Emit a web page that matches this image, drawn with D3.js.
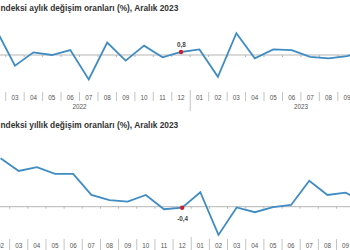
<!DOCTYPE html>
<html><head><meta charset="utf-8">
<script src="https://cdn.jsdelivr.net/npm/d3@7"></script>
<style>html,body{margin:0;padding:0;background:#fff;overflow:hidden}</style>
</head><body>
<svg id="c" width="350" height="250"></svg>
<script>
// ---- data ----
const monthLabels = ["01","02","03","04","05","06","07","08","09","10","11","12",
                     "01","02","03","04","05","06","07","08","09","10","11","12"];
const years = ["2022","2023"];
const periods = d3.range(24).map(i => years[Math.floor(i/12)] + "-" + monthLabels[i]);
// series values from 2022-02 to 2023-10
const seriesPeriods = periods.slice(1, 22);
const monthlyChange = [6.6, -2.85, 0.7, 0.0, 1.3, -6.5, 3.3, -1.5, 2.5, -0.6, 0.8,
                       1.5, -5.8, 5.8, -0.9, 1.5, 1.3, -0.5, -0.9, -0.3, 1.2];
const annualChange = [19.4, 14.3, 15.8, 13.1, 13.1, 4.7, 2.6, 2.0, 4.7, -1.0, -0.4,
                      5.8, -11.3, -0.3, -2.2, -0.2, 0.7, 10.4, 4.7, 5.6, 1.9];
const highlightPeriod = "2022-12";
const titles = ["ndeksi aylık değişim oranları (%), Aralık 2023",
                "ndeksi yıllık değişim oranları (%), Aralık 2023"];

const svg = d3.select("#c");
const FONT = "'Liberation Sans', Arial, sans-serif";
const lineColor = "#3f8bc3";

function panel(cfg){
  const g = svg.append("g");
  const x = d3.scalePoint().domain(periods).range([cfg.x0, cfg.x0 + cfg.step*(periods.length-1)]);
  const y = d3.scaleLinear().domain(cfg.yDomain).range(cfg.yRange);
  const step = cfg.step;
  const y0 = y(0);

  // title
  const t = g.append("text").attr("x", 0.5).attr("y", cfg.titleY)
    .attr("font-family", FONT).attr("font-weight", "bold").attr("font-size", 8)
    .attr("fill", "#333").text(cfg.title);
  const w = t.node().getComputedTextLength();
  t.attr("font-size", 8 * 178 / w);

  // zero line
  g.append("line").attr("x1", 0).attr("x2", 350).attr("y1", y0).attr("y2", y0)
    .attr("stroke", "#b5b5b5").attr("stroke-width", 1);
  // small ticks on zero line
  g.selectAll(".zt").data(periods.slice(0,-1)).join("line")
    .attr("x1", d => x(d) + step/2).attr("x2", d => x(d) + step/2)
    .attr("y1", y0).attr("y2", y0 + 2).attr("stroke", "#b5b5b5").attr("stroke-width", 1);

  // month labels
  g.selectAll(".ml").data(periods).join("text")
    .attr("x", d => x(d)).attr("y", cfg.labelY).attr("text-anchor", "middle")
    .attr("font-family", FONT).attr("font-size", 6.3).attr("fill", "#555")
    .text((d,i) => monthLabels[i]);
  // separators
  g.selectAll(".sep").data(periods.slice(0,-1)).join("line")
    .attr("x1", d => x(d) + step/2).attr("x2", d => x(d) + step/2)
    .attr("y1", (d,i) => i === 11 ? cfg.sepY[0]-2 : cfg.sepY[0])
    .attr("y2", (d,i) => i === 11 ? cfg.sepY[1]+10 : cfg.sepY[1])
    .attr("stroke", "#c4c4c4").attr("stroke-width", 1);
  // year labels
  g.selectAll(".yl").data(years).join("text")
    .attr("x", (d,i) => (x(periods[i*12]) + x(periods[i*12+11]))/2)
    .attr("y", cfg.labelY + 9).attr("text-anchor", "middle")
    .attr("font-family", FONT).attr("font-size", 6.3).attr("fill", "#555")
    .text(d => d);

  // line
  const data = seriesPeriods.map((p,i) => ({p, v: cfg.values[i]}));
  g.append("path").datum(data)
    .attr("d", d3.line().x(d => x(d.p)).y(d => y(d.v)))
    .attr("fill", "none").attr("stroke", lineColor).attr("stroke-width", 1.8)
    .attr("stroke-linejoin", "miter");

  // highlight
  const h = data.find(d => d.p === highlightPeriod);
  g.append("circle").attr("cx", x(h.p)).attr("cy", y(h.v)).attr("r", 2.2).attr("fill", "#c8202a");
  g.append("text").attr("x", x(h.p) + 0.5)
    .attr("y", y(h.v) + cfg.hlDy).attr("text-anchor", "middle")
    .attr("font-family", FONT).attr("font-weight", "bold").attr("font-size", 6.3).attr("fill", "#444")
    .text(String(h.v).replace(".", ","));
}

panel({title: titles[0], titleY: 11, x0: -21.95, step: 18.45,
       yDomain: [-10, 10], yRange: [92.5, 17.5], values: monthlyChange,
       labelY: 99.5, sepY: [92, 101], hlDy: -5});
panel({title: titles[1], titleY: 128, x0: -17.6, step: 18.16,
       yDomain: [-20, 20], yRange: [256.7, 156.7], values: annualChange,
       labelY: 248, sepY: [239, 250], hlDy: 13});
</script>
</body></html>
